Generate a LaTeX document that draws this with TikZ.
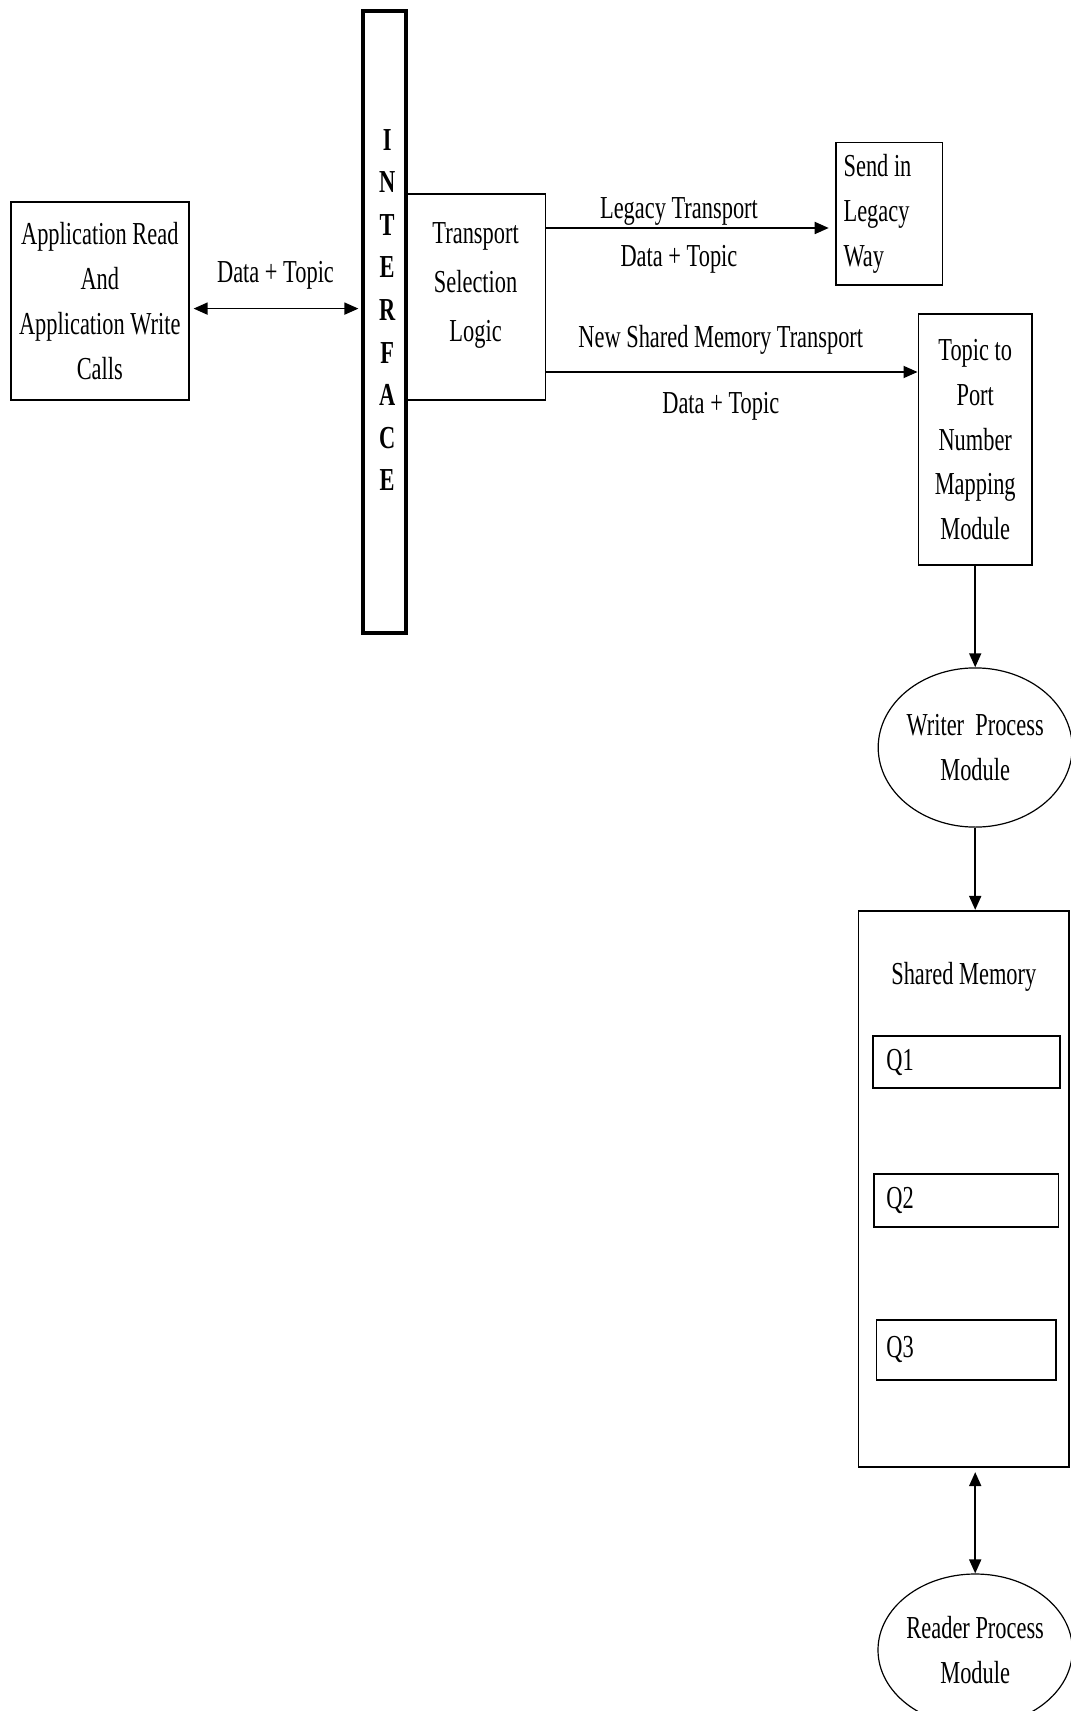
\documentclass[tikz,border=0pt]{standalone}
\usepackage{fontspec}
\setmainfont{Liberation Serif}[FakeStretch=0.7]
\usepackage{tikz}
\usetikzlibrary{shapes.geometric,arrows.meta,positioning,calc}
\newcommand{\dfont}{\fontsize{16}{22.4}\selectfont}

\begin{document}
\begin{tikzpicture}[x=1pt, y=1pt,
  blk/.style={rectangle, draw, line width=0.9pt, inner sep=0pt, align=center, font=\dfont},
  oval/.style={ellipse, draw, line width=0.6pt, inner sep=0pt, align=center, font=\dfont},
  qbox/.style={rectangle, draw, line width=0.9pt, inner sep=0pt, text width=80pt, align=flush left, font=\dfont},
  lbl/.style={inner sep=0pt, font=\dfont},
  arr/.style={-{Triangle[length=7pt,width=6pt]}, line width=0.9pt},
  darr/.style={{Triangle[length=7pt,width=6pt]}-{Triangle[length=7pt,width=6pt]}, line width=0.9pt}]
\useasboundingbox (0,0) rectangle (535,-855.5);
% left part
\node[blk, minimum width=88.9pt, minimum height=99.3pt] (app) at (49.9,-150.5) {Application Read\\And\\Application Write\\Calls};
\node[draw, line width=1.8pt, minimum width=21.3pt, minimum height=310.9pt, inner sep=0pt] (ifc) at (192.25,-160.9) {};
\foreach \c [count=\i] in {I,N,T,E,R,F,A,C,E}
  \node[lbl, font=\dfont\bfseries] (ch\i) at (193.6,{-69.8-(\i-1)*21.3}) {\c};
\node[blk, minimum width=69.8pt, minimum height=103.1pt, text depth=15pt, font=\fontsize{16}{24.5}\selectfont] (tsl) at (237.8,-148.6) {Transport\\Selection\\Logic};
% right part
\node[blk, minimum width=53.4pt, minimum height=71.4pt, text width=45.4pt, inner xsep=4pt, align=flush left] (leg) at (444.5,-107) {Send in\\Legacy\\Way};
\node[blk, minimum width=56.8pt, minimum height=125.4pt] (map) at (487.6,-219.8) {Topic to\\Port\\Number\\Mapping\\Module};
\node[oval, minimum width=96.5pt, minimum height=79.6pt, below=50.7pt of map] (wpm) {Writer~ Process\\Module};
\node[draw, line width=0.9pt, minimum width=105.4pt, minimum height=278.2pt, inner sep=0pt] (shm) at (481.9,-594.5) {};
\node[lbl, below=26pt of shm.north] (shmt) {Shared Memory};
\foreach \q/\y/\w/\h in {1/-531/93.8/25.7, 2/-600.2/92.1/26.7, 3/-674.9/89.9/30}
  \node[qbox, minimum width=\w pt, minimum height=\h pt] (q\q) at (483.2,\y) {Q\q};
\node[oval, minimum width=95.4pt, minimum height=76pt] (rpm) at (487.6,-825) {Reader Process\\Module};
% connectors
\draw[darr, shorten <=2pt, shorten >=1.5pt] ([yshift=-3.8pt]app.east) -- ([yshift=-3.8pt]app.east -| ifc.west)
  node[lbl, midway, above=9pt] (dt1) {Data + Topic};
\draw[arr, shorten >=3pt] ([yshift=-7pt]leg.west -| tsl.east) -- ([yshift=-7pt]leg.west)
  node[lbl, pos=0.46, above=1pt] (lt) {Legacy Transport}
  node[lbl, pos=0.46, below=8pt] (dt2) {Data + Topic};
\draw[arr] ([yshift=33.8pt]map.west -| tsl.east) -- ([yshift=33.8pt]map.west)
  node[lbl, pos=0.47, above=8.5pt] (nt) {New Shared Memory Transport}
  node[lbl, pos=0.47, below=9.5pt] (dt3) {Data + Topic};
\foreach \a/\b in {map/wpm,wpm/shm} \draw[arr] (\a.south) -- (\a.south |- \b.north);
\draw[darr, shorten <=2pt] (rpm.north |- shm.south) -- (rpm.north);
\end{tikzpicture}
\end{document}
